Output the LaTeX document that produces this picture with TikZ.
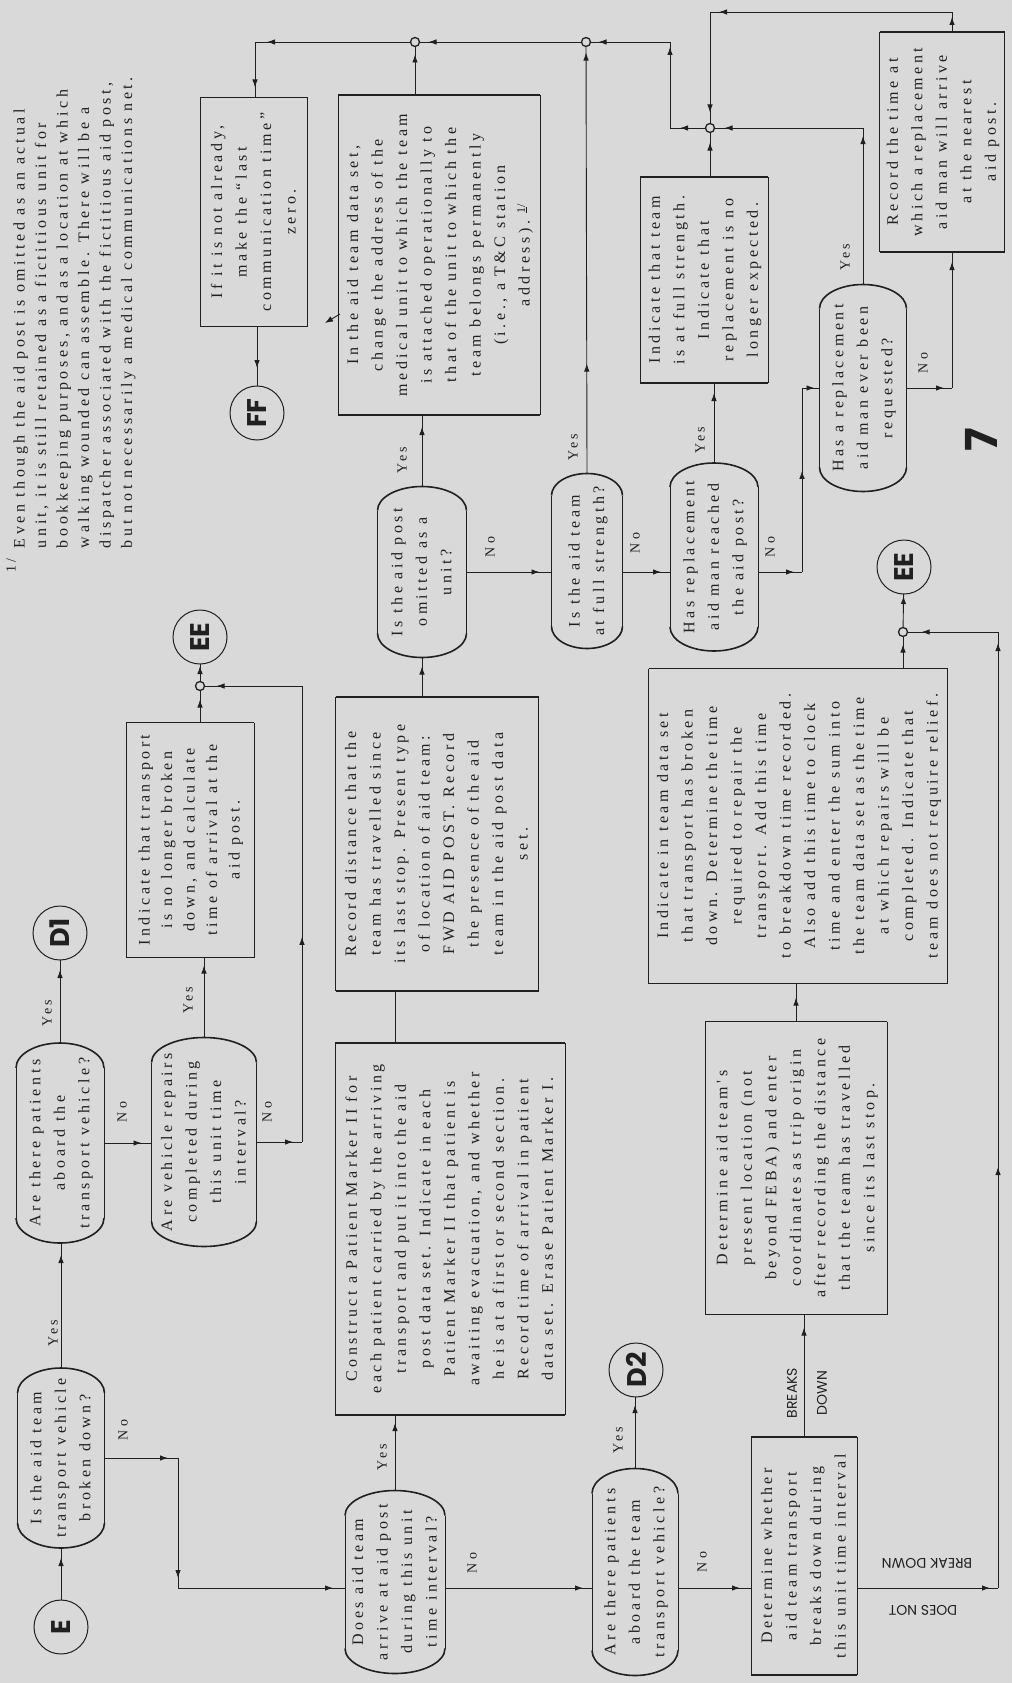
\documentclass[tikz,border=0pt]{standalone}
\usepackage{fontspec}
\usepackage{graphicx}
\usetikzlibrary{calc,arrows.meta,decorations.markings}
\setmainfont{Liberation Serif}
\newfontfamily\typed{Liberation Serif}[LetterSpace=22]
\newfontfamily\geo{Poppins}
\definecolor{paper}{HTML}{D9D9D9}
\definecolor{ink}{HTML}{202020}

% text set sideways, reading upwards
\newcommand\vt[1]{\rotatebox{90}{\begin{tabular}{@{}c@{}}#1\end{tabular}}}
% process box: thin sides, heavy top and bottom rules
\newcommand\boxrim[1]{%
  \draw[side] (#1.north west) -- (#1.south west) (#1.north east) -- (#1.south east);
  \draw[rim] (#1.north west) -- (#1.north east) (#1.south west) -- (#1.south east);}
% decision box with bowed caps of depth #2
\newcommand\capped[2]{%
  \draw[side] ($(#1.north west)+(0,#2)$) -- ($(#1.south west)+(0,-#2)$)
              ($(#1.north east)+(0,#2)$) -- ($(#1.south east)+(0,-#2)$);
  \draw[rim] ($(#1.north west)+(0,#2)$) .. controls ($(#1.north west)+(0,0.45*#2)$) and ($(#1.north)!0.55!(#1.north west)$) .. (#1.north)
             .. controls ($(#1.north)!0.55!(#1.north east)$) and ($(#1.north east)+(0,0.45*#2)$) .. ($(#1.north east)+(0,#2)$);
  \draw[rim] ($(#1.south west)+(0,-#2)$) .. controls ($(#1.south west)+(0,-0.45*#2)$) and ($(#1.south)!0.55!(#1.south west)$) .. (#1.south)
             .. controls ($(#1.south)!0.55!(#1.south east)$) and ($(#1.south east)+(0,-0.45*#2)$) .. ($(#1.south east)+(0,-#2)$);}

\begin{document}
\begin{tikzpicture}[x=1pt,y=-1pt,
  every node/.style={inner sep=0pt, outer sep=0pt, text=ink},
  txt/.style={font=\typed\fontsize{16}{24.5}\selectfont},
  wire/.style={ink, line width=0.9pt},
  side/.style={ink, line width=0.7pt},
  rim/.style={ink, line width=1.6pt},
  tipat/.style={postaction={decorate,decoration={markings,mark=at position #1 with {\arrow{Latex[length=8pt,width=5.5pt]}}}}},
  conn/.style={circle, draw=ink, line width=1pt, minimum size=54pt, font=\geo\bfseries\fontsize{27}{27}\selectfont},
  jn/.style={circle, draw=ink, fill=paper, line width=1.3pt, minimum size=9pt},
  lbl/.style={font=\typed\fontsize{14}{16}\selectfont},
  cue/.style={font=\geo\fontsize{14}{16}\selectfont},
]
\fill[paper] (0,0) rectangle (1012,1683);
\useasboundingbox (0,0) rectangle (1012,1683);

% ---------- footnote ----------
\node[font=\typed\fontsize{16}{21.5}\selectfont, anchor=south] (note) at (74,548)
  {\rotatebox{90}{\begin{tabular}{@{}l@{}}Even though the aid post is omitted as an actual\\
   unit, it is still retained as a fictitious unit for\\
   bookkeeping purposes, and as a location at which\\
   walking wounded can assemble.  There will be a\\
   dispatcher associated with the fictitious aid post,\\
   but not necessarily a medical communications net.\end{tabular}}};
\node[font=\typed\fontsize{14}{14}\selectfont] (notemark) at (11,566) {\rotatebox{90}{1/}};
\node[font=\geo\bfseries\fontsize{44}{44}\selectfont] (pg) at (981,440) {\rotatebox{90}{7}};

% ---------- connectors (circles) ----------
\node[conn] (E) at (61,1627) {\rotatebox{90}{E}};
\node[conn] (D1) at (60,933) {\rotatebox{90}{D1}};
\node[conn] (EE1) at (200,637) {\rotatebox{90}{EE}};
\node[conn] (FF) at (257,413) {\rotatebox{90}{FF}};
\node[conn] (D2) at (636,1370) {\rotatebox{90}{D2}};
\node[conn] (EE2) at (904,567) {\rotatebox{90}{EE}};

% ---------- junctions ----------
\node[jn] (J1) at (200,686) {};
\node[jn] (J2) at (415,42) {};
\node[jn] (J3) at (586,42) {};
\node[jn] (J4) at (710,128) {};
\node[jn] (J5) at (903,632) {};

% ---------- decisions ----------
\node[txt, minimum width=87pt, minimum height=180pt] (brk) at (61,1458) {\vt{Is the aid team\\transport vehicle\\broken down?}};
\node[txt, minimum width=88pt, minimum height=200pt] (pat1) at (60,1143) {\vt{Are there patients\\aboard the\\transport vehicle?}};
\node[txt, minimum width=105pt, minimum height=209pt] (rep) at (204,1142) {\vt{Are vehicle repairs\\completed during\\this unit time\\interval?}};
\node[txt, minimum width=89pt, minimum height=171pt] (omit) at (422,572) {\vt{Is the aid post\\omitted as a\\unit?}};
\node[txt, minimum width=71pt, minimum height=175pt] (full) at (587,561) {\vt{Is the aid team\\at full strength?}};
\node[txt, minimum width=100pt, minimum height=183pt] (does) at (395,1582) {\vt{Does aid team\\arrive at aid post\\during this unit\\time interval?}};
\node[txt, minimum width=86pt, minimum height=207pt] (pat2) at (635,1572) {\vt{Are there patients\\aboard the team\\transport vehicle?}};
\node[txt, minimum width=88pt, minimum height=188pt] (reach) at (714,557) {\vt{Has replacement\\aid man reached\\the aid post?}};
\node[txt, minimum width=87pt, minimum height=207pt] (req) at (863,388) {\vt{Has a replacement\\aid man ever been\\requested?}};
\capped{brk}{25}\capped{pat1}{25}\capped{rep}{25}\capped{omit}{24}\capped{full}{22}
\capped{does}{25}\capped{pat2}{25}\capped{reach}{24}\capped{req}{24}

% ---------- process boxes ----------
\node[font=\typed\fontsize{16}{22.5}\selectfont, minimum width=128pt, minimum height=235pt] (ind1) at (190,840)
  {\vt{Indicate that transport\\is no longer broken\\down, and calculate\\time of arrival at the\\aid post.}};
\node[txt, minimum width=107pt, minimum height=229pt] (ifn) at (254,212)
  {\vt{If it is not already,\\make the “last\\communication time”\\zero.}};
\node[txt, minimum width=202pt, minimum height=320pt] (inaid) at (439,255)
  {\vt{In the aid team data set,\\change the address of the\\medical unit to which the team\\is attached operationally to\\that of the unit to which the\\team belongs permanently\\(i.e., a T\&C station\\address).~\raisebox{0.6ex}{\fontsize{12}{12}\selectfont\underline{1}/}}};
\node[txt, minimum width=203pt, minimum height=294pt] (rec) at (437,844)
  {\vt{Record distance that the\\team has travelled since\\its last stop.  Present type\\of location of aid team:\\FWD AID POST.  Record\\the presence of the aid\\team in the aid post data\\set.}};
\node[txt, minimum width=230pt, minimum height=372pt] (cons) at (450,1229)
  {\vt{Construct a Patient Marker II for\\each patient carried by the arriving\\transport and put it into the aid\\post data set.  Indicate in each\\Patient Marker II that patient is\\awaiting evacuation, and whether\\he is at a first or second section.\\Record time of arrival in patient\\data set.  Erase Patient Marker I.}};
\node[txt, minimum width=106pt, minimum height=238pt] (det) at (804,1556)
  {\vt{Determine whether\\aid team transport\\breaks down during\\this unit time interval}};
\node[txt, minimum width=182pt, minimum height=293pt] (loc) at (796,1168)
  {\vt{Determine aid team's\\present location (not\\beyond FEBA) and enter\\coordinates as trip origin\\after recording the distance\\that the team has travelled\\since its last stop.}};
\node[txt, minimum width=299pt, minimum height=315pt] (ind3) at (798,826)
  {\vt{Indicate in team data set\\that transport has broken\\down.  Determine the time\\required to repair the\\transport.  Add this time\\to breakdown time recorded.\\Also add this time to clock\\time and enter the sum into\\the team data set as the time\\at which repairs will be\\completed.  Indicate that\\team does not require relief.}};
\node[txt, minimum width=128pt, minimum height=206pt] (ind2) at (704,280)
  {\vt{Indicate that team\\is at full strength.\\Indicate that\\replacement is no\\longer expected.}};
\node[txt, minimum width=125pt, minimum height=220pt] (recT) at (942,142)
  {\vt{Record the time at\\which a replacement\\aid man will arrive\\at the nearest\\aid post.}};
\boxrim{ind1}\boxrim{ifn}\boxrim{inaid}\boxrim{rec}\boxrim{cons}
\boxrim{det}\boxrim{loc}\boxrim{ind3}\boxrim{ind2}\boxrim{recT}

% ---------- flow lines ----------
\coordinate (r1) at (302,1142); \coordinate (r2) at (302,686);
\coordinate (b1) at (178,1458); \coordinate (b2) at (178,1588);
\coordinate (n1) at (802,572);  \coordinate (n2) at (802,388);
\coordinate (m1) at (req.north |- J4);
\coordinate (k1) at (952,388);  \coordinate (k3) at (952,12); \coordinate (k4) at (710,12);
\coordinate (h1) at (670,128);  \coordinate (h2) at (670,42);
\coordinate (g1) at (255,42);
\coordinate (q1) at (998,1588); \coordinate (q2) at (998,632);

\draw[wire,tipat=-10pt] (E.north) -- (brk.south);
\draw[wire,tipat=-12pt] (brk.north) -- (brk.north |- pat1.south);
\draw[wire,tipat=-10pt] (pat1.north) -- (D1.south);
\draw[wire,tipat=-10pt] (pat1.east) -- (pat1.east -| rep.west);
\draw[wire,tipat=-8pt] (rep.north) -- (rep.north |- ind1.south);
\draw[wire,tipat=-9pt] (rep.east) -- (r1);
\draw[wire,tipat=0.45] (r1) -- (r2);
\draw[wire,tipat=-12pt] (r2) -- (J1);
\draw[wire,tipat=-9pt] (J1 |- ind1.north) -- (J1);
\draw[wire,tipat=-2pt] (J1) -- (EE1);

\draw[wire,tipat=-10pt] (brk.east) -- (b1);
\draw[wire,tipat=-10pt] (b1) -- (b2);
\draw[wire,tipat=-12pt] (b2) -- (b2 -| does.west);
\draw[wire,tipat=-8pt] (does.north) -- (does.north |- cons.south);
\draw[wire] (does.north |- cons.north) -- (does.north |- rec.south);
\draw[wire,tipat=-9pt] (omit.south |- rec.north) -- (omit.south);
\draw[wire,tipat=-12pt] (omit.north) -- (omit.north |- inaid.south);
\draw[wire,tipat=-8pt] (J2 |- inaid.north) -- (J2);
\draw[wire,tipat=-12pt] (omit.east) -- (omit.east -| full.west);
\draw[wire,tipat=110pt,tipat=-6pt] (full.north) -- (J3);
\draw[wire,tipat=-9pt] (omit.east -| full.east) -- (omit.east -| reach.west);
\draw[wire,tipat=-10pt] (reach.north) -- (reach.north |- ind2.south);
\draw[wire,tipat=-10pt] (J4 |- ind2.north) -- (J4);
\draw[wire,tipat=-8pt] (omit.east -| reach.east) -- (n1);
\draw[wire,tipat=0.55] (n1) -- (n2);
\draw[wire,tipat=-5pt] (n2) -- (n2 -| req.west);
\draw[wire,tipat=-8pt] (req.north) -- (m1);
\draw[wire,tipat=-10pt] (m1) -- (J4);
\draw[wire,tipat=-8pt] (req.east) -- (k1);
\draw[wire,tipat=-10pt] (k1) -- (k1 |- recT.south);
\draw[wire,tipat=-5pt] (k1 |- recT.north) -- (k3);
\draw[wire,tipat=-9pt] (k3) -- (k4);
\draw[wire,tipat=-11pt] (k4) -- (J4);
\draw[wire,tipat=-10pt] (J4) -- (h1);
\draw[wire,tipat=-5pt] (h1) -- (h2);
\draw[wire,tipat=-8pt] (h2) -- (J3);
\draw[wire,tipat=-9pt] (J3) -- (J2);
\draw[wire,tipat=-12pt] (J2) -- (g1);
\draw[wire,tipat=-10pt] (g1) -- (g1 |- ifn.north);
\draw[wire,tipat=-18pt] (FF.north |- ifn.south) -- (FF.north);

\draw[wire,tipat=-9pt] (b2 -| does.east) -- (b2 -| pat2.west);
\draw[wire,tipat=-8pt] (pat2.north) -- (pat2.north |- D2.south);
\draw[wire,tipat=-11pt] (b2 -| pat2.east) -- (b2 -| det.west);
\draw[wire,tipat=-13pt] (det.north) -- (det.north |- loc.south);
\draw[wire,tipat=-14pt] (loc.north) -- (loc.north |- ind3.south);
\draw[wire,tipat=-8pt] (J5 |- ind3.north) -- (J5);
\draw[wire,tipat=-2pt] (J5) -- (EE2);
\draw[wire,tipat=-8pt] (b2 -| det.east) -- (q1);
\draw[wire,tipat=421pt,tipat=-11pt] (q1) -- (q2);
\draw[wire,tipat=-14pt] (q2) -- (J5);

% small loose arrow beside the address box
\coordinate (s1) at (340,314); \coordinate (s2) at (325,323);
\draw[wire,-{Latex[length=8pt,width=6pt]}] (s1) -- (s2);

% ---------- branch labels ----------
\node[lbl] (lA) at (53,1333) {\rotatebox{90}{Yes}};
\node[lbl] (lB) at (47,1013) {\rotatebox{90}{Yes}};
\node[lbl] (lC) at (122,1112) {\rotatebox{90}{No}};
\node[lbl] (lD) at (188,1000) {\rotatebox{90}{Yes}};
\node[lbl] (lE) at (267,1112) {\rotatebox{90}{No}};
\node[lbl] (lF) at (123,1430) {\rotatebox{90}{No}};
\node[lbl] (lG) at (382,1457) {\rotatebox{90}{Yes}};
\node[lbl] (lH) at (402,460) {\rotatebox{90}{Yes}};
\node[lbl] (lI) at (490,547) {\rotatebox{90}{No}};
\node[lbl] (lJ) at (573,447) {\rotatebox{90}{Yes}};
\node[lbl] (lK) at (635,543) {\rotatebox{90}{No}};
\node[lbl] (lL) at (700,440) {\rotatebox{90}{Yes}};
\node[lbl] (lM) at (770,547) {\rotatebox{90}{No}};
\node[lbl] (lN) at (845,257) {\rotatebox{90}{Yes}};
\node[lbl] (lO) at (923,363) {\rotatebox{90}{No}};
\node[lbl] (lP) at (472,1563) {\rotatebox{90}{No}};
\node[lbl] (lQ) at (618,1440) {\rotatebox{90}{Yes}};
\node[lbl] (lR) at (702,1562) {\rotatebox{90}{No}};
\node[cue] (lS) at (792,1393) {\rotatebox{90}{BREAKS}};
\node[cue] (lT) at (822,1393) {\rotatebox{90}{DOWN}};
\node[cue] (lU) at (927,1563) {\rotatebox{180}{BREAK DOWN}};
\node[cue] (lV) at (923,1610) {\rotatebox{180}{DOES NOT}};
\end{tikzpicture}
\end{document}
